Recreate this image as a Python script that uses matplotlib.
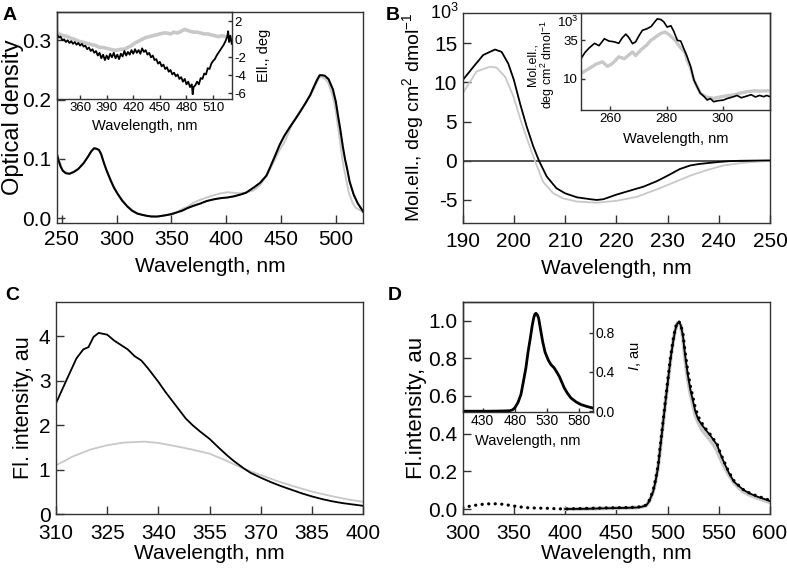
import numpy as np
import matplotlib.pyplot as plt

plt.rcParams['font.family'] = ['Liberation Sans', 'DejaVu Sans']
plt.rcParams['mathtext.fontset'] = 'custom'
plt.rcParams['mathtext.rm'] = 'Liberation Sans'
plt.rcParams['mathtext.it'] = 'Liberation Sans:italic'
plt.rcParams['axes.unicode_minus'] = False

GRIS = '#c8c8c8'
EJE = '#333333'

# ---- panel A: absorcion ----
a_wl = [245.5, 247, 249, 251, 253.6, 257, 261, 265, 270, 274, 277, 279.5, 282, 284, 286, 288.5,
        291, 294.6, 297.5, 300.7, 305, 309.8, 314, 318.9, 323, 328, 332, 337, 341, 346, 350, 355,
        360, 364.4, 370, 376.5, 382, 388.7, 395, 400.8, 407, 413, 418, 422, 426, 431, 436.7, 440.3,
        444, 448.8, 453, 458.5, 463, 467.6, 472, 476.7, 480, 482.8, 485.2, 487.4, 490, 493.4, 497.3,
        500, 502, 504, 506.4, 508.5, 510.1, 512.5, 516.2, 520, 522.5, 525]
a_od_negro = [0.109, 0.098, 0.087, 0.080, 0.076, 0.075, 0.078, 0.083, 0.093, 0.104, 0.113, 0.118, 0.117,
              0.115, 0.108, 0.093, 0.080, 0.064, 0.052, 0.042, 0.030, 0.020, 0.013, 0.008, 0.006, 0.004,
              0.003, 0.003, 0.004, 0.0056, 0.007, 0.010, 0.013, 0.017, 0.021, 0.025, 0.029, 0.032, 0.034,
              0.035, 0.037, 0.040, 0.043, 0.048, 0.053, 0.060, 0.072, 0.087, 0.103, 0.124, 0.139, 0.155,
              0.167, 0.180, 0.193, 0.208, 0.222, 0.233, 0.241, 0.241, 0.240, 0.234, 0.217, 0.196, 0.172,
              0.150, 0.120, 0.098, 0.085, 0.062, 0.040, 0.025, 0.018, 0.011]
a_wl_gris = [245.5, 251, 257, 265, 270, 277, 279.5, 284, 288.5, 294.6, 300.7, 309.8, 318.9, 328, 337,
             346, 355, 360, 364.4, 370, 376, 382, 388.7, 395, 400.8, 406.2, 413, 419, 425, 431, 437, 442,
             448, 453, 461, 467, 472, 477, 481, 484.7, 487, 490, 493, 497.3, 500, 503.4, 506, 509.5, 512,
             515.5, 518, 521.6, 525]
a_od_gris = [0.109, 0.080, 0.075, 0.083, 0.093, 0.113, 0.118, 0.115, 0.093, 0.064, 0.042, 0.020, 0.008,
             0.004, 0.003, 0.0056, 0.010, 0.016, 0.019, 0.026, 0.031, 0.035, 0.039, 0.042, 0.044, 0.043,
             0.042, 0.044, 0.047, 0.056, 0.072, 0.090, 0.113, 0.128, 0.162, 0.180, 0.194, 0.208, 0.222,
             0.237, 0.238, 0.235, 0.228, 0.205, 0.180, 0.135, 0.098, 0.064, 0.042, 0.025, 0.018, 0.014, 0.010]

# inserto A: dicroismo
ia_wl = [334, 336, 338, 340, 342, 344, 346, 348, 350, 352, 354, 356, 358, 360, 362, 364, 366, 368, 370,
         372, 374, 376, 378, 380, 382, 384, 386, 388, 390, 392, 394, 396, 398, 400, 402, 404, 406, 408,
         410, 412, 414, 416, 418, 420, 422, 424, 426, 428, 430, 432, 434, 436, 438, 440, 442, 444, 446,
         448, 450, 452, 454, 456, 458, 460, 462, 464, 466, 468, 470, 472, 474, 476, 478, 480, 482, 484,
         486, 487, 488, 490, 492, 494, 496, 498, 500, 502, 504, 506, 508, 510, 512, 514, 516, 518, 520,
         522, 524, 526, 527, 528, 529.5, 531]
ia_ell_negro = [0.6, 0.2, 0.3, -0.1, 0.0, -0.3, -0.1, -0.4, -0.2, -0.5, -0.3, -0.6, -0.4, -0.7, -0.5,
                -0.8, -0.7, -1.1, -0.9, -1.3, -1.1, -1.5, -1.3, -1.8, -1.5, -2.1, -1.7, -2.3, -1.8, -2.2,
                -1.6, -2.0, -1.5, -2.1, -1.7, -2.2, -1.6, -1.9, -1.3, -1.8, -1.4, -1.7, -1.2, -1.6, -1.1,
                -1.5, -1.2, -1.6, -1.0, -1.4, -1.2, -1.7, -1.5, -2.0, -1.8, -2.3, -2.2, -2.7, -2.5, -3.0,
                -2.8, -3.3, -3.1, -3.6, -3.4, -3.9, -3.7, -4.1, -3.9, -4.4, -4.2, -4.7, -4.4, -5.0, -4.7,
                -5.3, -5.0, -6.1, -5.3, -5.1, -4.7, -5.0, -4.3, -4.4, -3.8, -3.9, -3.2, -3.3, -2.7, -2.4,
                -2.2, -1.8, -1.5, -1.2, -0.9, -0.6, -0.2, 0.3, 0.9, -0.3, 0.4, -0.5]
ia_wl_gris = [334, 338, 342, 346, 350, 354, 358, 362, 366, 370, 374, 378, 382, 386, 390, 394, 398, 402,
              406, 410, 414, 418, 422, 426, 430, 434, 438, 442, 446, 450, 454, 458, 462, 466, 470, 474,
              478, 481, 484, 488, 492, 496, 500, 504, 508, 512, 516, 520, 524, 528, 531]
ia_ell_gris = [0.8, 0.5, 0.4, 0.3, 0.1, 0.0, -0.2, -0.3, -0.4, -0.5, -0.6, -0.7, -0.9, -0.9, -1.0, -1.1,
               -1.2, -1.2, -1.1, -1.1, -0.9, -0.7, -0.4, -0.2, 0.0, 0.2, 0.3, 0.4, 0.5, 0.6, 0.7, 0.7,
               0.6, 0.8, 0.7, 0.9, 1.1, 1.0, 0.9, 0.8, 0.8, 0.7, 0.6, 0.6, 0.5, 0.4, 0.3, 0.4, 0.3, 0.3, 0.1]

# ---- panel B: CD lejano ----
b_wl_negro = [190, 192.1, 194, 196.3, 197.6, 198.9, 200, 201.2, 202.5, 203.8, 204.9, 206.4, 208.3, 210,
              212.3, 214.9, 216.2, 217.5, 220.1, 222.7, 225.3, 227.9, 230, 232.4, 234.4, 236, 238, 240,
              242, 244, 250]
b_ell_negro = [10.3, 12.0, 13.5, 14.2, 13.9, 12.4, 10.3, 7.3, 4.35, 1.8, 0.0, -2.0, -3.5, -4.15, -4.66,
               -4.9, -5.0, -4.9, -4.3, -3.8, -3.3, -2.6, -1.9, -1.05, -0.6, -0.42, -0.28, -0.15, -0.05,
               0.0, 0.05]
b_wl_gris = [190, 192.7, 195.3, 196.6, 198.3, 199.9, 201.5, 203.1, 204.1, 205.7, 207.7, 209.6, 212.3,
             216.2, 220.1, 224, 227.9, 231.1, 234.4, 237.6, 240.9, 244.8, 250]
b_ell_gris = [8.6, 11.4, 12.0, 11.9, 10.7, 8.2, 4.8, 1.8, 0.0, -2.7, -4.15, -4.8, -5.2, -5.35, -5.1,
              -4.6, -3.65, -2.8, -1.9, -1.2, -0.6, -0.25, 0.0]

# inserto B: CD cercano
ib_wl_negro = [249.6, 251, 252.5, 254.4, 256, 257.9, 259.5, 261.4, 263, 264.2, 265.5, 266.5, 267.9, 269,
               270.2, 271.4, 273, 274.5, 276, 276.7, 278, 279, 280.2, 281.5, 282.5, 283.8, 285, 286,
               287.3, 288.5, 289.7, 291, 292, 293.2, 294.4, 295.5, 296.7, 298, 300.2, 301.5, 302.5,
               303.8, 305, 306.5, 308.5, 310, 311.5, 313, 314.5, 315.5, 316.7]
ib_ell_negro = [23, 27, 30, 33, 31.5, 36, 34.5, 34, 33, 36.5, 39, 37, 32.8, 34, 38, 41.5, 42.5, 44, 47.5,
                49, 48.5, 47, 43.6, 44.5, 41, 35, 34.5, 30, 24.2, 18, 9, 4, 0.4, -1.5, -4, -3, -5.1,
                -4.5, -4, -3, -2.5, -1.8, -1, -2.5, -1.4, -0.5, -2, -1, -1.8, -1.0, -1.8]
ib_wl_gris = [249.6, 252, 255, 257.2, 259, 260.5, 261.4, 263, 265, 267.9, 269, 271, 273, 274.4, 276,
              278, 279.5, 281, 283, 284.8, 286.5, 287.3, 288.5, 289.7, 291, 292, 294, 296.7, 299, 302,
              303.8, 306, 308.5, 311, 313, 316.7]
ib_ell_gris = [13.4, 16, 19.5, 20.9, 18, 19.5, 21, 24.2, 23, 27.4, 25, 29, 32, 35, 37, 39.5, 40.4, 38.5,
               35, 30.6, 27, 22, 17, 9, 4, 0.4, -2, -2.9, -2, -1, -0.7, 0.5, 1.4, 2.0, 1.8, 2.1]

# ---- panel C: fluorescencia Trp ----
c_wl_negro = [310, 313, 316, 318, 319.5, 321, 322.5, 325, 327, 329, 331, 333, 335, 337, 340, 342, 344,
              346, 348, 350, 352, 355, 358, 360, 362, 365, 367, 370, 373, 376, 379, 382, 385, 388, 391,
              394, 397, 400]
c_fl_negro = [2.49, 3.0, 3.5, 3.7, 3.75, 3.98, 4.07, 4.03, 3.9, 3.8, 3.7, 3.55, 3.45, 3.27, 2.97, 2.75,
              2.55, 2.35, 2.15, 2.0, 1.87, 1.69, 1.47, 1.33, 1.2, 1.03, 0.93, 0.82, 0.72, 0.63, 0.55,
              0.47, 0.4, 0.34, 0.29, 0.25, 0.22, 0.19]
c_wl_gris = [310, 315, 320, 325, 330, 336, 340, 345, 350, 355, 360, 365, 370, 375, 380, 385, 390, 395, 400]
c_fl_gris = [1.1, 1.3, 1.45, 1.55, 1.61, 1.63, 1.6, 1.53, 1.45, 1.36, 1.2, 1.02, 0.88, 0.74, 0.62, 0.51,
             0.42, 0.34, 0.28]

# ---- panel D: fluorescencia cromoforo ----
d_wl = [400, 420, 440, 450, 460, 470, 475, 479.3, 482, 485.8, 488, 490.7, 493, 495.7, 498, 500.6, 503,
        505.5, 507.5, 509.5, 511, 512.8, 515, 517, 519.5, 522, 524.5, 527, 530, 533.6, 538, 541.8, 545,
        548.4, 551, 554.9, 560, 564.8, 570, 574.6, 580, 587.9, 595, 600]
d_fl_negro = [0.0, 0.001, 0.004, 0.005, 0.006, 0.008, 0.012, 0.02, 0.04, 0.09, 0.14, 0.22, 0.33, 0.46,
              0.57, 0.69, 0.80, 0.89, 0.95, 0.985, 0.99, 0.977, 0.92, 0.82, 0.72, 0.64, 0.58, 0.52, 0.475,
              0.446, 0.415, 0.39, 0.365, 0.34, 0.30, 0.25, 0.19, 0.145, 0.12, 0.10, 0.083, 0.065, 0.052, 0.042]
d_fl_gris = [0.0, 0.001, 0.004, 0.005, 0.006, 0.008, 0.012, 0.02, 0.04, 0.09, 0.14, 0.22, 0.33, 0.46,
             0.57, 0.69, 0.80, 0.89, 0.95, 0.985, 0.99, 0.975, 0.91, 0.80, 0.70, 0.62, 0.56, 0.50, 0.46,
             0.42, 0.39, 0.365, 0.34, 0.31, 0.275, 0.23, 0.18, 0.14, 0.11, 0.09, 0.075, 0.058, 0.045, 0.035]
d_wl_punt = [300, 304, 310, 316, 323, 330, 336, 342, 347.5, 355, 362, 372, 381.5, 390, 399, 410, 425, 440,
             450, 460, 470, 475, 479, 482, 485.8, 488, 490.7, 493, 495.7, 498, 500.6, 503, 505.5, 507.5,
             509.5, 511, 512.8, 515, 517, 519.5, 522, 524.5, 527, 530, 533.6, 538, 541.8, 545, 548.4, 551,
             554.9, 560, 564.8, 570, 574.6, 580, 587.9, 595, 600]
d_fl_punt = [0.008, 0.012, 0.018, 0.023, 0.027, 0.028, 0.027, 0.023, 0.018, 0.012, 0.007, 0.005, 0.004,
             0.002, 0.0, 0.002, 0.004, 0.006, 0.007, 0.008, 0.01, 0.012, 0.02, 0.045, 0.095, 0.15, 0.23,
             0.34, 0.47, 0.58, 0.70, 0.81, 0.90, 0.96, 0.99, 0.995, 0.98, 0.93, 0.84, 0.74, 0.66, 0.6,
             0.54, 0.49, 0.455, 0.42, 0.395, 0.37, 0.345, 0.305, 0.255, 0.195, 0.15, 0.122, 0.10, 0.085,
             0.068, 0.056, 0.045]

# inserto D
id_wl = [400, 440, 460, 472, 476, 480, 485, 489.5, 493, 497.2, 500.5, 504, 507, 509.2, 511, 512.8, 515,
         517, 520, 523.2, 527, 532, 536, 541.2, 545, 549, 553, 556.8, 562, 567, 575, 582.6, 592, 600]
id_fl = [0.0, 0.0, 0.002, 0.005, 0.012, 0.034, 0.09, 0.17, 0.29, 0.44, 0.6, 0.74, 0.87, 0.945, 0.985,
         0.996, 0.98, 0.945, 0.83, 0.71, 0.6, 0.52, 0.475, 0.44, 0.40, 0.355, 0.295, 0.237, 0.18, 0.136,
         0.095, 0.068, 0.048, 0.034]

TICK = 15


def caja(ax, tam=TICK, largo=6):
    # marco completo con ticks hacia adentro
    for s in ax.spines.values():
        s.set_color(EJE)
        s.set_linewidth(1.0)
    ax.tick_params(direction='in', length=largo, width=1, color=EJE, labelsize=tam, pad=4)


def px(izq, der, arriba, abajo):
    W, H = 787.0, 569.0
    return [izq / W, 1 - abajo / H, (der - izq) / W, (abajo - arriba) / H]


fig = plt.figure(figsize=(7.87, 5.69), dpi=100)

# ===== A =====
axA = fig.add_axes(px(56.7, 363.3, 11.7, 223.3))
axA.plot(a_wl_gris, a_od_gris, color=GRIS, lw=1.4)
axA.plot(a_wl, a_od_negro, color='black', lw=1.5)
axA.set_xlim(245.4, 525)
axA.set_ylim(-0.0084, 0.348)
axA.set_xticks([250, 300, 350, 400, 450, 500])
axA.set_yticks([0.0, 0.1, 0.2, 0.3])
axA.set_yticklabels(['0.0', '0.1', '0.2', '0.3'])
caja(axA)
axA.tick_params(axis='x', pad=5)
axA.set_xlabel('Wavelength, nm', fontsize=15)
axA.set_ylabel('Optical density', fontsize=17)
axA.xaxis.set_label_coords(0.5, -0.158)
axA.yaxis.set_label_coords(-0.106, 0.5)

iA = fig.add_axes(px(57, 231.7, 11.7, 99.3))
iA.set_facecolor('none')
iA.plot(ia_wl_gris, ia_ell_gris, color=GRIS, lw=2.6)
iA.plot(ia_wl, ia_ell_negro, color='black', lw=1.3)
iA.set_xlim(334, 531)
iA.set_ylim(-6.66, 3.07)
iA.set_xticks([360, 390, 420, 450, 480, 510])
iA.set_yticks([-6, -4, -2, 0, 2])
iA.yaxis.tick_right()
iA.yaxis.set_label_position('right')
caja(iA, 9.5, 3)
iA.tick_params(pad=2)
iA.set_xlabel('Wavelength, nm', fontsize=10.5)
iA.set_ylabel('Ell., deg', fontsize=10.5)
iA.xaxis.set_label_coords(0.5, -0.22)
iA.yaxis.set_label_coords(1.145, 0.5)

# ===== B =====
axB = fig.add_axes(px(462.7, 770, 12.7, 222.7))
axB.axhline(0, color='#444444', lw=1.3)
axB.plot(b_wl_gris, b_ell_gris, color=GRIS, lw=1.3)
axB.plot(b_wl_negro, b_ell_negro, color='black', lw=1.3)
axB.set_xlim(190, 250)
axB.set_ylim(-7.9, 18.9)
axB.set_xticks([190, 200, 210, 220, 230, 240, 250])
axB.set_yticks([-5, 0, 5, 10, 15])
caja(axB)
axB.tick_params(axis='x', pad=7)
axB.set_xlabel('Wavelength, nm', fontsize=15)
axB.set_ylabel('Mol.ell., deg cm$^2$ dmol$^{-1}$', fontsize=14)
axB.xaxis.set_label_coords(0.5, -0.172)
axB.yaxis.set_label_coords(-0.119, 0.5)
axB.text(-0.012, 1.0, '10$^3$', transform=axB.transAxes, ha='right', va='center', fontsize=13)

iB = fig.add_axes(px(581, 770, 12.7, 110))
iB.set_facecolor('none')
iB.plot(ib_wl_gris, ib_ell_gris, color=GRIS, lw=2.4)
iB.plot(ib_wl_negro, ib_ell_negro, color='black', lw=1.2)
iB.set_xlim(249.6, 316.7)
iB.set_ylim(-10.5, 53)
iB.set_xticks([260, 280, 300])
iB.set_yticks([10, 35])
caja(iB, 9.5, 3)
iB.tick_params(pad=2)
iB.set_xlabel('Wavelength, nm', fontsize=10.5)
iB.set_ylabel('Mol.ell.,\ndeg cm$^2$ dmol$^{-1}$', fontsize=9, linespacing=1.0)
iB.xaxis.set_label_coords(0.5, -0.225)
iB.yaxis.set_label_coords(-0.128, 0.47)
iB.text(-0.01, 0.9, '10$^3$', transform=iB.transAxes, ha='right', va='center', fontsize=9.5)

# ===== C =====
axC = fig.add_axes(px(56, 363.3, 301.7, 514.3))
axC.plot(c_wl_gris, c_fl_gris, color=GRIS, lw=1.3)
axC.plot(c_wl_negro, c_fl_negro, color='black', lw=1.3)
axC.set_xlim(310, 400)
axC.set_ylim(0, 4.77)
axC.set_xticks([310, 325, 340, 355, 370, 385, 400])
axC.set_yticks([0, 1, 2, 3, 4])
caja(axC)
axC.tick_params(axis='x', pad=7)
axC.set_xlabel('Wavelength, nm', fontsize=15)
axC.set_ylabel('Fl. intensity, au', fontsize=15.5)
axC.xaxis.set_label_coords(0.5, -0.14)
axC.yaxis.set_label_coords(-0.072, 0.5)

# ===== D =====
axD = fig.add_axes(px(462.7, 770, 301.7, 514.3))
axD.plot(d_wl, d_fl_gris, color=GRIS, lw=2.8)
axD.plot(d_wl, d_fl_negro, color='black', lw=1.3)
axD.plot(d_wl_punt, d_fl_punt, color='black', lw=2.3, ls=(0, (0.05, 2.0)), dash_capstyle='round')
axD.set_xlim(300, 600)
axD.set_ylim(-0.028, 1.10)
axD.set_xticks([300, 350, 400, 450, 500, 550, 600])
axD.set_yticks([0.0, 0.2, 0.4, 0.6, 0.8, 1.0])
axD.set_yticklabels(['0.0', '0.2', '0.4', '0.6', '0.8', '1.0'])
caja(axD)
axD.tick_params(axis='x', pad=7)
axD.set_xlabel('Wavelength, nm', fontsize=15)
axD.set_ylabel('Fl.intensity, au', fontsize=16)
axD.xaxis.set_label_coords(0.5, -0.14)
axD.yaxis.set_label_coords(-0.116, 0.5)

iD = fig.add_axes(px(462.7, 592.7, 301.7, 411.7))
iD.set_facecolor('none')
iD.plot(id_wl, id_fl, color='black', lw=2.0)
iD.set_xlim(399, 601)
iD.set_ylim(-0.005, 1.114)
iD.set_xticks([430, 480, 530, 580])
iD.set_yticks([0.0, 0.4, 0.8])
iD.set_yticklabels(['0.0', '0.4', '0.8'])
iD.yaxis.tick_right()
iD.yaxis.set_label_position('right')
caja(iD, 10, 3)
iD.tick_params(pad=2)
iD.set_xlabel('Wavelength, nm', fontsize=10.5)
iD.set_ylabel('$I$, au', fontsize=10.5)
iD.xaxis.set_label_coords(0.5, -0.2)
iD.yaxis.set_label_coords(1.264, 0.5)

# letras de panel
for letra, x, y in [('A', 3, 15), ('B', 386, 15), ('C', 5, 295), ('D', 388, 295)]:
    fig.text(x / 787, 1 - y / 569, letra, fontsize=14, fontweight='bold', va='center', ha='left')

fig.savefig('out.png', dpi=100)
